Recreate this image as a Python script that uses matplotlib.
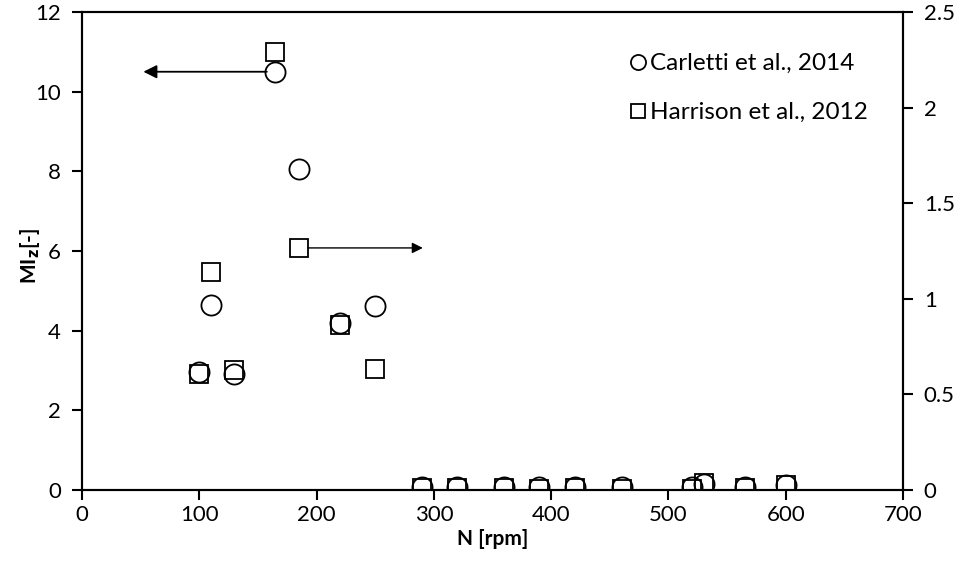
import numpy as np
import matplotlib
matplotlib.use("Agg")
import matplotlib.pyplot as plt

plt.rcParams['font.family'] = ['Lato', 'DejaVu Sans']

# Carletti et al., 2014 (left axis)
n_carletti = [100, 110, 130, 165, 185, 220, 250, 290, 320, 360, 390, 420, 460, 520, 530, 565, 600]
mi_carletti = [2.96, 4.65, 2.91, 10.49, 8.06, 4.19, 4.63, 0.08, 0.08, 0.07, 0.07, 0.07, 0.07, 0.07, 0.15, 0.08, 0.12]

# Harrison et al., 2012 (right axis)
n_harrison = [100, 110, 130, 165, 185, 220, 250, 290, 320, 360, 390, 420, 460, 520, 530, 565, 600]
mi_harrison = [0.605, 1.14, 0.628, 2.29, 1.266, 0.863, 0.631, 0.008, 0.01, 0.01, 0.006, 0.01, 0.006, 0.006, 0.038, 0.01, 0.026]

fig = plt.figure(figsize=(9.63, 5.71), dpi=100)
ax = fig.add_axes([0.0851, 0.1419, 0.8526, 0.8371])
ax2 = ax.twinx()

h1, = ax.plot(n_carletti, mi_carletti, 'o', ms=14.5, mfc='none', mec='black', mew=1.3,
              label='Carletti et al., 2014', zorder=3)
h2, = ax2.plot(n_harrison, mi_harrison, 's', ms=13.5, mfc='none', mec='black', mew=1.3,
               label='Harrison et al., 2012', zorder=2)

ax.set_xlim(0, 700)
ax.set_ylim(0, 12)
ax2.set_ylim(0, 2.5)
ax.set_xticks(np.arange(0, 701, 100))
ax.set_yticks(np.arange(0, 13, 2))
ax2.set_yticks([0, 0.5, 1, 1.5, 2, 2.5])
ax2.set_yticklabels(['0', '0.5', '1', '1.5', '2', '2.5'])

for a in (ax, ax2):
    for s in a.spines.values():
        s.set_linewidth(1.5)
    a.tick_params(labelsize=16, width=1.5, length=7, direction='out')
ax.tick_params(axis='x', pad=4)
ax.tick_params(axis='y', pad=8)
ax2.tick_params(axis='y', pad=8)

ax.set_xlabel('N [rpm]', fontsize=15, fontweight='bold', labelpad=3)
ax.set_ylabel(r'MI$_\mathbf{z}$[-]', fontsize=15, fontweight='bold')
ax.yaxis.set_label_coords(-0.049, 0.49)

# arrows pointing to the relevant axis
ax.annotate('', xy=(50, 10.5), xytext=(160, 10.5),
            arrowprops=dict(arrowstyle='-|>', color='black', lw=1.3, mutation_scale=20))
ax2.annotate('', xy=(293, 1.266), xytext=(190, 1.266),
             arrowprops=dict(arrowstyle='-|>', color='black', lw=1.0, mutation_scale=16))

leg = fig.legend(handles=[h1, h2], loc='upper left', bbox_to_anchor=(0.632, 0.945),
                 frameon=False, fontsize=17.5, handlelength=0.6, handletextpad=0.2,
                 labelspacing=1.15, markerscale=0.75)

fig.savefig('out.png', dpi=100)
